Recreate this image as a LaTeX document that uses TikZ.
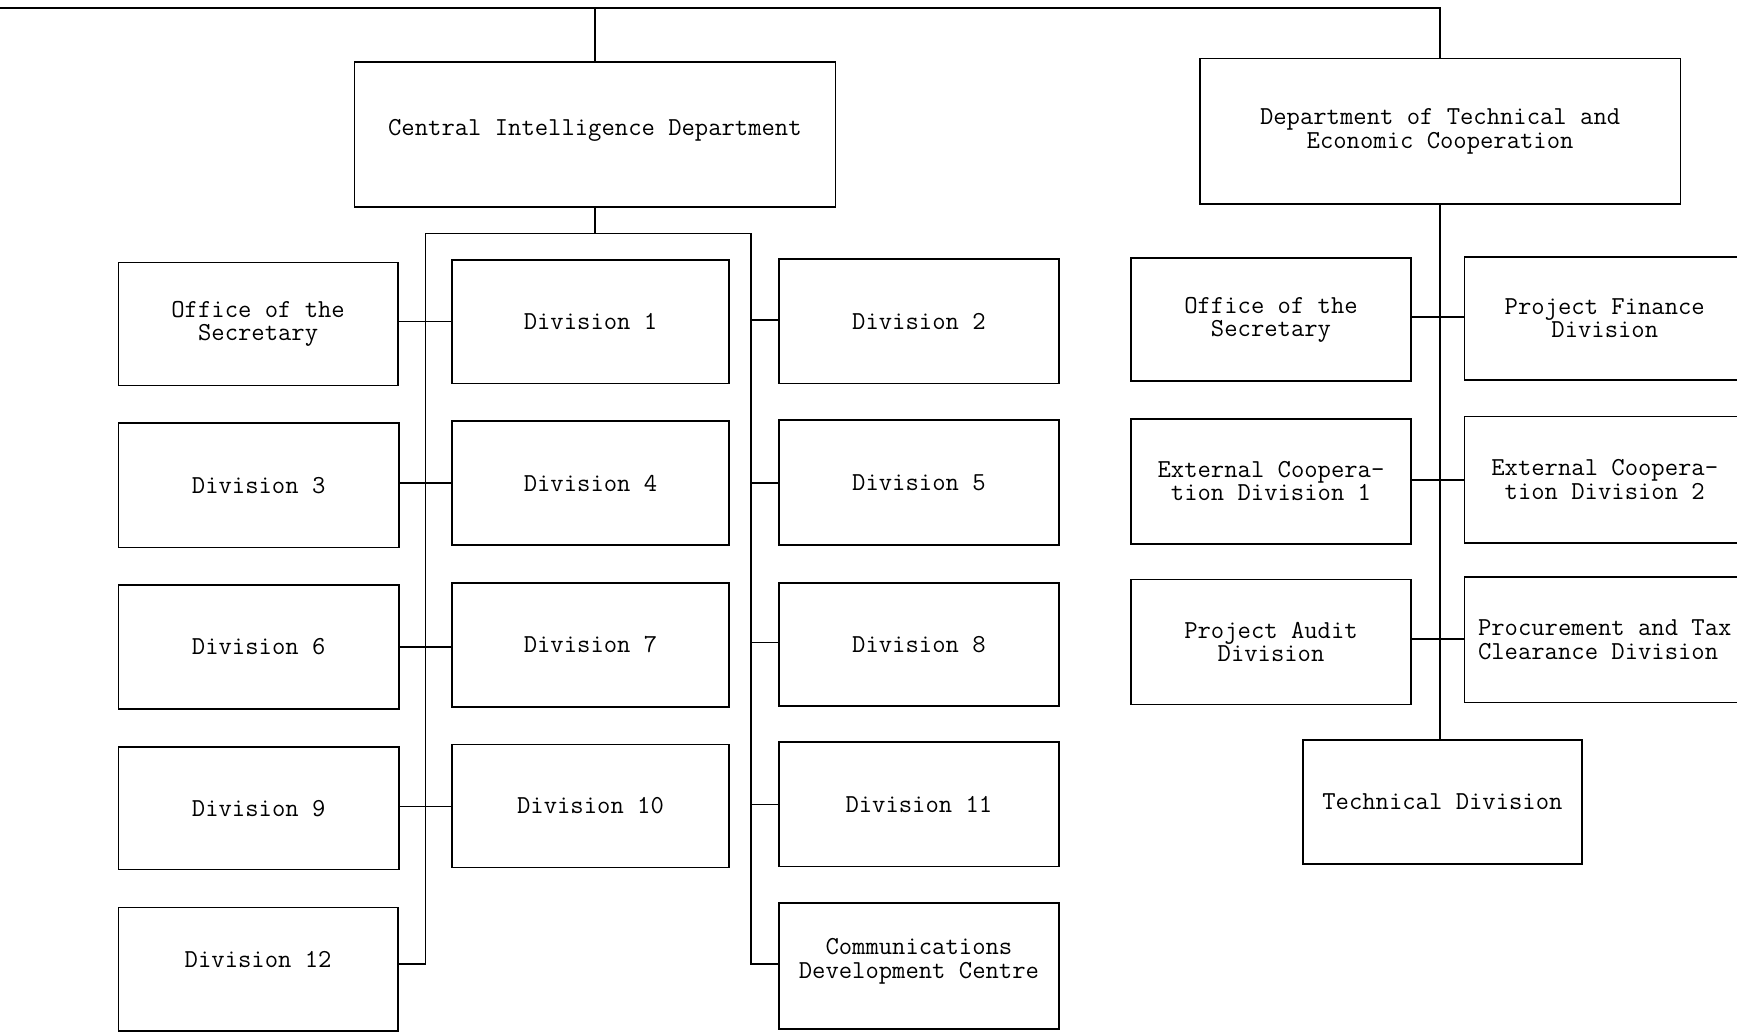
\documentclass[tikz,border=0pt]{standalone}
\usepackage{fontspec}
\tikzset{
  box/.style={draw, line width=1.6pt, inner sep=0pt, align=center,
    font=\fontsize{25.9}{23.3}\selectfont\ttfamily},
  conn/.style={line width=1.6pt}
}
\newcommand\obox[7][]{%
  \pgfmathsetmacro\bcx{(#3+#5)/2}\pgfmathsetmacro\bcy{(#4+#6)/2}%
  \pgfmathsetmacro\bww{#5-#3}\pgfmathsetmacro\bhh{#6-#4}%
  \node[box,#1,minimum width=\bww pt,minimum height=\bhh pt] (#2) at (\bcx,\bcy) {#7};}
\begin{document}
\begin{tikzpicture}[x=1pt,y=-1pt]
\useasboundingbox (0,0) rectangle (1737,1032);
\clip (0,0) rectangle (1737,1032);
% departments
\obox{cid}{354.5}{62}{835.3}{207.2}{\raisebox{-1pt}[0pt][0pt]{Central Intelligence Department}}
\obox{dtec}{1199.7}{58.7}{1680.5}{203.8}{Department of Technical and\\Economic Cooperation}
% left column
\obox{off1}{118.5}{262.5}{397.7}{385.5}{Office of the\\Secretary}
\obox{d3}{118.5}{423.2}{398.8}{547.3}{Division 3}
\obox{d6}{118.5}{584.9}{398.8}{709}{Division 6}
\obox{d9}{118.5}{746.7}{398.8}{869.6}{Division 9}
\obox{d12}{118.5}{907.3}{397.7}{1031}{\raisebox{2pt}[0pt][0pt]{Division 12}}
% middle column
\obox{d1}{452}{260.3}{729}{383.3}{Division 1}
\obox{d4}{452}{421}{729}{545}{Division 4}
\obox{d7}{452}{582.7}{729}{706.8}{Division 7}
\obox{d10}{452}{744.4}{729}{867.4}{Division 10}
% right column
\obox{d2}{778.8}{259.2}{1059}{383.3}{Division 2}
\obox{d5}{778.8}{419.9}{1059}{545}{Division 5}
\obox{d8}{778.8}{582.7}{1059}{705.7}{Division 8}
\obox{d11}{778.8}{742.2}{1059}{866.3}{Division 11}
\obox{cdc}{778.8}{902.9}{1059}{1029.1}{\raisebox{-2pt}[0pt][0pt]{\begin{tabular}{@{}c@{}}Communications\\Development Centre\end{tabular}}}
% right department
\obox{ros}{1131}{258.1}{1411}{381.1}{Office of the\\Secretary}
\obox{ec1}{1131}{418.7}{1411}{543.9}{External Coopera-\\tion Division 1}
\obox{pad}{1131}{579.4}{1411}{704.6}{Project Audit\\Division}
\obox{pfd}{1464.5}{257}{1745}{380}{Project Finance\\Division}
\obox{ec2}{1464.5}{416.5}{1745}{542.8}{External Coopera-\\tion Division 2}
\obox[align=left]{ptc}{1464.5}{577.2}{1745}{702.3}{Procurement and Tax\\Clearance Division}
\obox{tech}{1302.8}{740}{1582}{864.1}{Technical Division}
% helper coordinates
\coordinate (tl) at (0,8);
\coordinate (bl) at (425.4,233.7);
\coordinate (br) at (751.1,233.7);
\coordinate (r1) at (0,321.3);
\coordinate (r2) at (0,483);
\coordinate (r3) at (0,647);
\coordinate (r4) at (0,806.5);
\coordinate (r5) at (0,963.8);
\coordinate (q1) at (0,320);
\coordinate (q2) at (0,483);
\coordinate (q3) at (0,642.5);
\coordinate (q4) at (0,804.3);
\coordinate (s1) at (0,316.8);
\coordinate (s2) at (0,479.7);
\coordinate (s3) at (0,639.2);
% top line
\draw[conn] (tl) -- (tl -| dtec.north) -- (dtec.north);
\draw[conn] (cid.north) -- (cid.north |- tl);
% CID bus
\draw[conn] (cid.south) -- (cid.south |- bl);
\draw[conn] (d12.east |- r5) -| (bl) -- (br) |- (cdc.west |- r5);
% left/middle rows
\draw[conn] (off1.east |- r1) -- (d1.west |- r1);
\draw[conn] (d3.east |- r2) -- (d4.west |- r2);
\draw[conn] (d6.east |- r3) -- (d7.west |- r3);
\draw[conn] (d9.east |- r4) -- (d10.west |- r4);
% right column rows
\draw[conn] (br |- q1) -- (d2.west |- q1);
\draw[conn] (br |- q2) -- (d5.west |- q2);
\draw[conn] (br |- q3) -- (d8.west |- q3);
\draw[conn] (br |- q4) -- (d11.west |- q4);
% DTEC spine
\draw[conn] (dtec.south) -- (dtec.south |- tech.north);
\draw[conn] (ros.east |- s1) -- (pfd.west |- s1);
\draw[conn] (ec1.east |- s2) -- (ec2.west |- s2);
\draw[conn] (pad.east |- s3) -- (ptc.west |- s3);
\end{tikzpicture}
\end{document}
